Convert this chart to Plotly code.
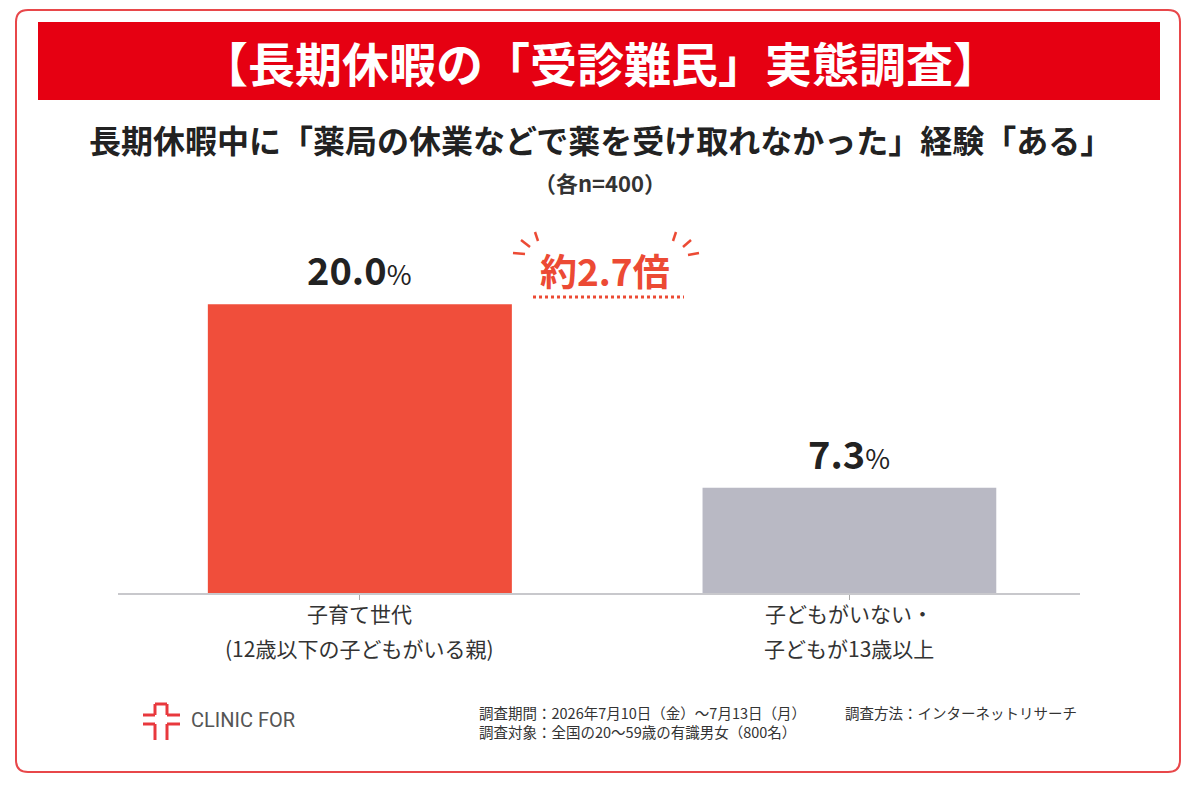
import plotly.graph_objects as go

# ---- data ----
categories = ["子育て世代<br>(12歳以下の子どもがいる親)", "子どもがいない・<br>子どもが13歳以上"]
values = [20.0, 7.3]
bar_colors = ["#f04e3b", "#b9b9c4"]
value_labels = ["20.0", "7.3"]
title_text = "【長期休暇の「受診難民」実態調査】"
subtitle_text = "長期休暇中に「薬局の休業などで薬を受け取れなかった」経験「ある」"
sample_text = "（各n=400）"
ratio_text = "約2.7倍"
footer_lines = ["調査期間：2026年7月10日（金）～7月13日（月）", "調査対象：全国の20～59歳の有識男女（800名）"]
footer_method = "調査方法：インターネットリサーチ"
brand = "CLINIC FOR"

W, H = 1200, 788
FONT = "Noto Sans CJK JP"
RED = "#e60012"
ORANGE = "#ec4a34"


def px(x):
    return x / W


def py(y):
    return 1 - y / H


fig = go.Figure()
fig.add_trace(go.Bar(
    x=categories, y=values, marker_color=bar_colors, width=[0.621, 0.6],
    marker_line_width=0, hoverinfo="skip",
))

shapes = []
# outer rounded border
shapes.append(dict(type="path", xref="paper", yref="paper",
                   path=f"M {px(28)},{py(10)} L {px(1168)},{py(10)} Q {px(1180)},{py(10)} {px(1180)},{py(22)} "
                        f"L {px(1180)},{py(760)} Q {px(1180)},{py(772)} {px(1168)},{py(772)} "
                        f"L {px(28)},{py(772)} Q {px(16)},{py(772)} {px(16)},{py(760)} "
                        f"L {px(16)},{py(22)} Q {px(16)},{py(10)} {px(28)},{py(10)} Z",
                   line=dict(color="#e8474a", width=2), fillcolor="rgba(0,0,0,0)", layer="below"))
# banner
shapes.append(dict(type="rect", xref="paper", yref="paper", x0=px(38), x1=px(1160), y0=py(100), y1=py(22),
                   fillcolor=RED, line=dict(width=0), layer="below"))
# dotted underline under ratio
shapes.append(dict(type="line", xref="paper", yref="paper", x0=px(533), x1=px(684), y0=py(297), y1=py(297),
                   line=dict(color=ORANGE, width=3, dash="dot")))
# burst lines
burst = [((535, 232), (538, 241)), ((521, 240), (530, 247)), ((513, 253), (525, 254)),
         ((676, 232), (673, 241)), ((691, 240), (683, 247)), ((699, 253), (688, 255))]
for (a, b) in burst:
    shapes.append(dict(type="line", xref="paper", yref="paper", x0=px(a[0]), y0=py(a[1]), x1=px(b[0]), y1=py(b[1]),
                       line=dict(color=ORANGE, width=2.5)))
# logo
logo = [
    ((143, 715), (155, 715)), ((155, 715), (155, 704)), ((155, 704), (167, 704)), ((167, 704), (167, 715)),
    ((167, 715), (180, 715)),
    ((143, 724), (155, 724)), ((155, 724), (155, 740)), ((167, 724), (180, 724)), ((167, 724), (167, 740)),
]
for (a, b) in logo:
    shapes.append(dict(type="line", xref="paper", yref="paper", x0=px(a[0]), y0=py(a[1]), x1=px(b[0]), y1=py(b[1]),
                       line=dict(color="#e8383d", width=3)))

ann = []
ann.append(dict(text=f"<b>{title_text}</b>", x=0.5, y=py(62), xref="paper", yref="paper", showarrow=False,
                font=dict(family=FONT, size=47, color="white"), xanchor="center", yanchor="middle"))
ann.append(dict(text=f"<b>{subtitle_text}</b>", x=0.5, y=py(139), xref="paper", yref="paper", showarrow=False,
                font=dict(family=FONT, size=32, color="#222222"), xanchor="center", yanchor="middle"))
ann.append(dict(text=f"<b>{sample_text}</b>", x=0.5, y=py(182), xref="paper", yref="paper", showarrow=False,
                font=dict(family=FONT, size=22, color="#333333"), xanchor="center", yanchor="middle"))
ann.append(dict(text=f"<b>{ratio_text}</b>", x=px(605), y=py(270), xref="paper", yref="paper", showarrow=False,
                font=dict(family=FONT, size=37, color=ORANGE), xanchor="center", yanchor="middle"))
for c, v, lab in zip(categories, values, value_labels):
    ann.append(dict(text=f"<b>{lab}</b><span style='font-size:27px'>%</span>", x=c, y=v, xref="x", yref="y",
                    showarrow=False, yanchor="bottom", yshift=6,
                    font=dict(family=FONT, size=38, color="#222222")))
    lines = c.split("<br>")
    for i, ln in enumerate(lines):
        ann.append(dict(text=ln, x=c, y=py(613 + 35 * i), xref="x", yref="paper", showarrow=False,
                        xanchor="center", yanchor="middle",
                        font=dict(family=FONT, size=21, color="#333333")))
ann.append(dict(text=brand, x=px(189), y=py(720), xref="paper", yref="paper", showarrow=False, xanchor="left",
                yanchor="middle", font=dict(family="Roboto", size=20, color="#555555")))
for i, ln in enumerate(footer_lines):
    ann.append(dict(text=ln, x=px(477), y=py(712 + 19 * i), xref="paper", yref="paper", showarrow=False,
                    xanchor="left", yanchor="middle", font=dict(family=FONT, size=14.5, color="#333333")))
ann.append(dict(text=footer_method, x=px(843), y=py(712), xref="paper", yref="paper", showarrow=False,
                xanchor="left", yanchor="middle", font=dict(family=FONT, size=14.5, color="#333333")))

fig.update_layout(
    width=W, height=H, margin=dict(l=0, r=0, t=0, b=0),
    paper_bgcolor="white", plot_bgcolor="white",
    showlegend=False, shapes=shapes, annotations=ann,
    xaxis=dict(domain=[px(118), px(1080)], range=[-0.494, 1.471], showticklabels=False,
               showline=True, linecolor="#c8c8cc", linewidth=2, ticks="outside", ticklen=5,
               tickcolor="#aaaaaa", showgrid=False, fixedrange=True),
    yaxis=dict(domain=[py(593), py(160)], range=[0, 30], showticklabels=False, showgrid=False,
               zeroline=False, showline=False, fixedrange=True),
)

fig.write_html("out.html")
